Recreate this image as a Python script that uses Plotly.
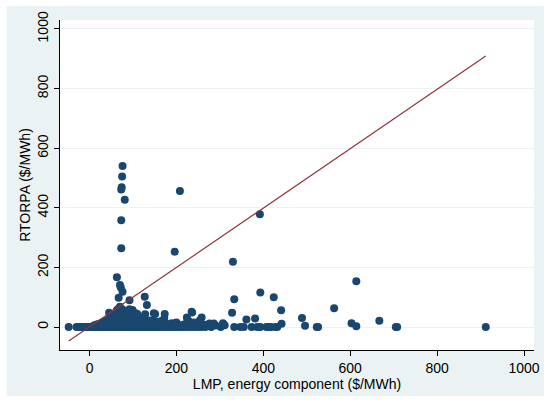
import plotly.graph_objects as go

# Outlying observations (LMP energy component, RTORPA)
lmp_out = [76, 75, 74, 73, 81, 73, 73, 208, 196, 392, 330, 63, 70, 72, 76, 67, 92, 127, 132,
           333, 393, 424, 441, 442, 381, 361, 328, 489, 496, 526, 563, 603, 614, 614, 667, 708,
           912, -48, 99, 106, 110, 128, 151, 173, 236, 258, 224, 286, 45]
rto_out = [540, 505, 469, 461, 427, 358, 264, 456, 253, 378, 219, 167, 141, 133, 118, 98, 90, 102, 74,
           93, 116, 100, 56, 11, 29, 25, 48, 30, 4, 0, 63, 13, 154, 3, 21, 0,
           0, 0, 57, 46, 44, 43, 44, 44, 49, 32, 32, 12, 48]

# Dense cluster along zero
lmp_zero = [-30, -25, -20, -16, -12, -8, -4, 0, 4, 8, 12, 16, 20, 24, 28, 32, 36, 40, 44, 48,
            52, 56, 60, 64, 68, 72, 76, 80, 84, 88, 92, 96, 100, 104, 108, 112, 116, 120, 124,
            128, 132, 136, 140, 144, 148, 152, 156, 160, 165, 170, 176, 182, 188, 194, 198, 204,
            211, 218, 226, 234, 242, 250, 257, 266, 280, 302, 311, 333, 347, 355, 373, 386, 393,
            407, 413, 418, 428, 432, 523, 705]
rto_zero = [0, 0, 0, 0, 0, 0, 0, 0, 0, 0, 0, 0, 0, 0, 0, 0, 0, 0, 0, 0,
            0, 0, 0, 0, 0, 0, 0, 0, 0, 0, 0, 0, 0, 0, 0, 0, 0, 0, 0,
            0, 0, 0, 0, 0, 0, 0, 0, 0, 0, 0, 0, 0, 0, 0, 0, 0,
            0, 0, 0, 0, 0, 0, 0, 0, 0, 0, 6, 0, 0, 0, 0, 0, 0,
            0, 0, 0, 0, 0, 0, 0]

# Dense cluster above zero
lmp_low = [10, 15, 20, 25, 30, 35, 40, 45, 50, 50, 55, 55, 60, 60, 62, 65, 65, 68, 70, 70,
           72, 75, 75, 78, 80, 82, 85, 88, 90, 92, 95, 98, 100, 102, 105, 108, 110, 112, 115,
           118, 120, 125, 129, 130, 135, 140, 145, 148, 150, 155, 160, 165, 170, 175, 180, 185,
           189, 195, 200, 210, 220, 228, 235, 240, 245, 254, 265, 276, 290, 307,
           30, 40, 55, 65, 85, 95, 105, 115, 135, 160, 190, 215,
           22, 28, 34, 38, 42, 46, 52, 58, 62, 66, 70, 74, 78, 82, 86, 90, 94, 98, 102, 106,
           110, 114, 118, 122, 126, 132, 138, 142, 146, 152, 158, 163, 168, 174, 178, 184,
           192, 198, 205, 213, 222, 231, 238, 248, 258, 270,
           48, 58, 68, 78, 88, 100, 112, 124, 138, 155, 172, 200, 232]
rto_low = [5, 8, 10, 12, 15, 18, 22, 28, 30, 40, 35, 20, 45, 30, 55, 40, 60, 50, 68, 30,
           45, 60, 20, 40, 55, 35, 48, 25, 40, 60, 30, 20, 35, 47, 28, 15, 38, 25, 20,
           30, 12, 22, 23, 10, 15, 8, 20, 46, 12, 5, 10, 20, 18, 8, 5, 10,
           13, 5, 8, 5, 10, 20, 51, 15, 5, 23, 8, 12, 5, 13,
           6, 10, 10, 18, 15, 12, 8, 10, 6, 5, 4, 6,
           4, 6, 8, 10, 12, 14, 16, 18, 20, 22, 24, 12, 16, 20, 14, 18, 12, 15, 10, 14,
           8, 12, 9, 14, 7, 10, 6, 9, 5, 8, 6, 4, 8, 5, 7, 4,
           6, 3, 7, 4, 6, 3, 5, 4, 6, 3,
           25, 28, 35, 25, 30, 22, 18, 15, 22, 18, 28, 15, 12]

fit_x = [-48, 912]
fit_y = [-47, 909]

lmp = lmp_out + lmp_zero + lmp_low
rto = rto_out + rto_zero + rto_low

font = dict(family="Liberation Sans, Arial, sans-serif", size=14, color="#000000")

fig = go.Figure()
fig.add_trace(go.Scatter(x=lmp, y=rto, mode="markers",
                         marker=dict(color="#1a476f", size=8, line=dict(width=0)),
                         showlegend=False, hoverinfo="skip"))
fig.add_trace(go.Scatter(x=fit_x, y=fit_y, mode="lines",
                         line=dict(color="#90353b", width=1.2),
                         showlegend=False, hoverinfo="skip"))

W, H = 550, 402
L, R, T, B = 60, 10, 20, 52
pw, ph = W - L - R, H - T - B
# light outer background rectangle in paper coordinates
x0p = (6 - L) / pw
x1p = (550 - L) / pw
y0p = (H - B - 396) / ph
y1p = (H - B - 6) / ph

fig.update_layout(
    width=W, height=H, autosize=False,
    margin=dict(l=L, r=R, t=T, b=B),
    paper_bgcolor="#ffffff",
    plot_bgcolor="#ffffff",
    font=font,
    shapes=[dict(type="rect", xref="paper", yref="paper", x0=x0p, x1=x1p, y0=y0p, y1=y1p,
                 fillcolor="#eaf2f3", line=dict(width=0), layer="below"),
            dict(type="rect", xref="paper", yref="paper", x0=0, x1=1, y0=0, y1=1,
                 fillcolor="#ffffff", line=dict(width=0), layer="below")],
    xaxis=dict(range=[-68, 1023], tickvals=[0, 200, 400, 600, 800, 1000],
               showgrid=False, zeroline=False, showline=True, linecolor="#000000", linewidth=1,
               ticks="outside", ticklen=5, tickcolor="#000000",
               title=dict(text="LMP, energy component ($/MWh)", font=font, standoff=1),
               tickfont=font),
    yaxis=dict(range=[-77, 1030], tickvals=[0, 200, 400, 600, 800, 1000],
               showgrid=True, gridcolor="#eaf2f3", gridwidth=1,
               zeroline=False, showline=True, linecolor="#000000", linewidth=1,
               ticks="outside", ticklen=5, tickcolor="#000000", tickangle=-90,
               title=dict(text="RTORPA ($/MWh)", font=font, standoff=1),
               tickfont=font),
)

fig.write_html("out.html")
